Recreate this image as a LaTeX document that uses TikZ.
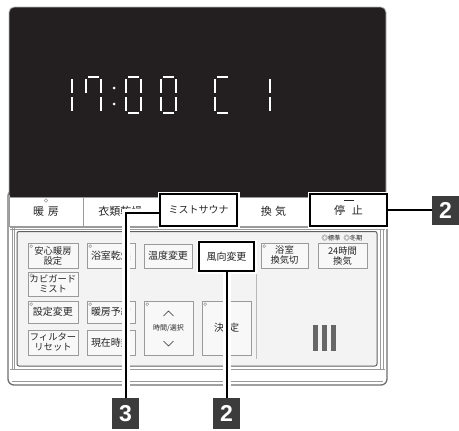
\documentclass[tikz,border=0pt]{standalone}
\usepackage{fontspec}
\newfontfamily\jp{Noto Sans CJK JP}
\newfontfamily\lblf{Liberation Sans}
\definecolor{disp}{HTML}{231F20}
\definecolor{txt}{HTML}{262626}
\definecolor{bord}{HTML}{9A9A9A}
\definecolor{panelc}{HTML}{F3F3F3}
\definecolor{btnc}{HTML}{F8F8F8}
\definecolor{labc}{HTML}{3C3C3C}
\definecolor{rimc}{HTML}{6E6E6E}
\newcommand\sgA[1]{\draw[segm] (#1+2,77) -- (#1+13,77);}
\newcommand\sgB[1]{\draw[segm] (#1+15,79) -- (#1+15,93);}
\newcommand\sgC[1]{\draw[segm] (#1+15,97) -- (#1+15,111);}
\newcommand\sgD[1]{\draw[segm] (#1+2,113) -- (#1+13,113);}
\newcommand\sgE[1]{\draw[segm] (#1,97) -- (#1,111);}
\newcommand\sgF[1]{\draw[segm] (#1,79) -- (#1,93);}
\begin{document}
\begin{tikzpicture}[x=1pt,y=-1pt,
  segm/.style={draw=white, line width=2.1pt},
  tab/.style={draw=bord, line width=0.7pt, fill=white, minimum height=29pt, inner sep=0pt,
    text=txt, font=\jp\fontsize{11}{12}\selectfont},
  hl/.style={draw=black, line width=2.4pt, fill=white, inner sep=0pt, text=txt,
    preaction={draw=white, line width=5pt}},
  btn/.style={draw=bord, fill=btnc, line width=0.6pt, inner sep=0pt, align=center,
    text=txt, font=\jp\fontsize{10}{10.5}\selectfont},
  btntwo/.style={btn, font=\jp\fontsize{9.3}{10}\selectfont},
  ind/.style={draw=bord, line width=0.5pt, fill=white},
  rail/.style={draw=bord, line width=0.8pt},
  halo/.style={draw=white, line width=8pt},
  leader/.style={draw=black, line width=2pt},
  lbl/.style={fill=labc, text=white, inner sep=0pt, minimum width=27pt,
    font=\lblf\bfseries\fontsize{23}{23}\selectfont},
  chev/.style={draw=txt, line width=0.7pt}]
\useasboundingbox (0,0) rectangle (459,431);

% body
\draw[draw=rimc, line width=1.3pt, fill=white, rounded corners=6pt] (8,190) rectangle (387,385);
\draw[draw=bord, line width=0.6pt] (12,381.5) -- (383,381.5);
% display
\draw[fill=disp, draw=gray!55, line width=0.9pt, rounded corners=5pt] (9,7) rectangle (386,200);

% seven segment digits
\sgB{57}\sgC{57}
\sgA{86}\sgB{86}\sgC{86}\sgF{86}
\fill[white] (114,88) circle (1.5pt);
\fill[white] (114,104) circle (1.5pt);
\sgA{126}\sgB{126}\sgC{126}\sgD{126}\sgE{126}\sgF{126}
\sgA{161}\sgB{161}\sgC{161}\sgD{161}\sgE{161}\sgF{161}
\sgA{215}\sgD{215}\sgE{215}\sgF{215}
\sgB{255}\sgC{255}

% tabs
\node[tab, minimum width=74pt] (t1) at (46,211.5) {暖\hspace{0.35em}房};
\node[tab, minimum width=75pt] (t2) at (120.5,211.5) {衣類乾燥};
\node[tab, minimum width=79pt] (t3) at (197.5,211.5) {};
\node[tab, minimum width=73pt] (t4) at (273.5,211.5) {換\hspace{0.3em}気};
\node[tab, minimum width=76pt] (t5) at (348,211.5) {};
\draw[ind] (46,200.5) circle (1.8pt);

% rails and inner panel
\draw[rail] (10,227) -- (385,227);
\draw[rail] (10,229.5) -- (385,229.5);
\draw[rail] (12,227) -- (12,369);
\draw[rail] (14.5,227) -- (14.5,369);
\draw[rail] (380,227) -- (380,369);
\draw[rail] (383,227) -- (383,369);
\draw[rail] (10,369) -- (385,369);
\draw[fill=panelc, draw=gray!75!black, line width=1pt, rounded corners=2pt] (17,231.5) rectangle (377,366);

% buttons
\node[btntwo, minimum width=50pt, minimum height=25pt] (b1) at (53,255.5) {安心暖房\\設定};
\node[btn, minimum width=48pt, minimum height=25pt] (b2) at (111,255.5) {浴室乾燥};
\node[btn, minimum width=48pt, minimum height=24pt] (b3) at (168,256) {温度変更};
\node[btntwo, minimum width=47pt, minimum height=25pt] (b5) at (284.5,255.5) {浴室\\換気切};
\node[btntwo, minimum width=49pt, minimum height=25pt] (b6) at (342.5,255.5) {24時間\\換気};
\node[text=txt, font=\jp\fontsize{6.3}{7}\selectfont, inner sep=0pt] (std) at (342,238) {◎標準\hspace{0.5em}◎冬期};
\node[btntwo, minimum width=50pt, minimum height=24pt] (b7) at (53,284) {カビガード\\ミスト};
\node[btn, minimum width=50pt, minimum height=22pt] (b8) at (53,312) {設定変更};
\node[btn, minimum width=48pt, minimum height=22pt] (b9) at (111,312) {暖房予約};
\node[btntwo, minimum width=50pt, minimum height=25pt] (b10) at (53,342.5) {フィルター\\リセット};
\node[btn, minimum width=48pt, minimum height=25pt] (b11) at (111,342.5) {現在時刻};
\node[btn, minimum width=49pt, minimum height=54pt] (b12) at (168.5,328) {};
\node[text=txt, font=\jp\fontsize{7}{7}\selectfont, inner sep=0pt] (selt) at (168.5,328.5) {時間/選択};
\draw[chev] (163.5,316) -- (168.5,311) -- (173.5,316);
\draw[chev] (163.5,341) -- (168.5,346) -- (173.5,341);
\node[btn, minimum width=49pt, minimum height=54pt] (b13) at (226.5,328) {決\hspace{0.5em}定};
\foreach \b in {b1,b2,b5,b7,b8,b9,b12,b13}
  \draw[ind] ([xshift=3.5pt,yshift=-3.5pt]\b.north west) circle (1.4pt);
\draw[draw=bord!70, line width=0.6pt] (256,274) -- (256,359);
% III icon
\fill[gray!80!black] (312.5,325) rectangle (318,350.5);
\fill[gray!80!black] (321.5,325) rectangle (327,350.5);
\fill[gray!80!black] (330.5,325) rectangle (336,350.5);

% highlight frames
\node[hl, minimum width=77pt, minimum height=32pt, font=\jp\fontsize{10}{11}\selectfont] (mist) at (198.5,210) {ミストサウナ};
\node[hl, minimum width=77pt, minimum height=32pt, font=\jp\fontsize{11}{12}\selectfont] (teishi) at (348.5,210) {停\hspace{0.6em}止};
\draw[draw=txt, line width=1.3pt, line cap=round] (344.5,200.5) -- (353.5,200.5);
\node[hl, minimum width=55pt, minimum height=29pt, font=\jp\fontsize{10}{11}\selectfont] (fuko) at (226.5,256.5) {風向変更};

% labels
\node[lbl, minimum height=29pt] (n2r) at (445.5,210) {2};
\node[lbl, minimum height=31pt] (n3) at (125.5,413.5) {3};
\node[lbl, minimum height=31pt] (n2b) at (226.5,413.5) {2};

% leaders
\draw[halo, shorten >=1.6pt] (n3.north) |- ([yshift=-3pt]mist.west);
\draw[halo, shorten >=1.6pt] (n2b.north) -- (fuko.south);
\draw[leader] (n3.north) |- ([yshift=-3pt]mist.west);
\draw[leader] (n2b.north) -- (fuko.south);
\draw[leader] (teishi.east) -- (n2r.west);
\end{tikzpicture}
\end{document}
